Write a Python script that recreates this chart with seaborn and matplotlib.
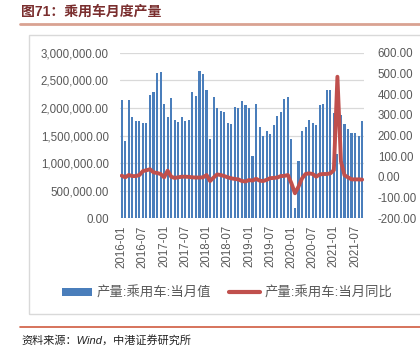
import numpy as np
import pandas as pd
import matplotlib
matplotlib.use('Agg')
import matplotlib.pyplot as plt
import seaborn as sns
from matplotlib.patches import Patch, Rectangle
from matplotlib.lines import Line2D
from matplotlib.ticker import FuncFormatter

# Monthly data, 2016-01 .. 2021-09.
months = pd.date_range('2016-01-01', periods=69, freq='MS').strftime('%Y-%m').tolist()

# 产量:乘用车:当月值 (units)
production = [
    2140000, 1400000, 2140000, 1830000, 1770000, 1770000, 1720000, 1720000, 2230000, 2280000, 2640000, 2650000,
    2070000, 1840000, 2180000, 1780000, 1740000, 1840000, 1760000, 1790000, 2290000, 2220000, 2670000, 2610000,
    2330000, 1440000, 2200000, 2000000, 1950000, 1930000, 1730000, 1710000, 2020000, 2000000, 2120000, 2050000,
    2000000, 1130000, 2080000, 1650000, 1490000, 1590000, 1530000, 1690000, 1860000, 1930000, 2160000, 2190000,
    1430000, 190000, 1040000, 1580000, 1650000, 1790000, 1730000, 1690000, 2050000, 2080000, 2320000, 2330000,
    1910000, 1160000, 1880000, 1700000, 1620000, 1550000, 1540000, 1500000, 1760000,
]

# 产量:乘用车:当月同比 (%)
yoy = [
    6, -2, 9, 4, 4, 9, 28, 32, 37, 22, 19, 14,
    -2, 30, 1, -5, -2, 1, 1, 0, -2, -3, -3, -2,
    9, -20, -3, 12, 9, 4, -2, -7, -10, -12, -20, -22,
    -15, -18, -9, -18, -20, -14, -6, -5, -3, 4, 5, 9,
    -31, -79, -47, -7, 14, 17, 14, 1, 12, 14, 14, 17,
    33, 484, 75, 8, -2, -12, -12, -12, -13,
]

bar_label = '产量:乘用车:当月值'
line_label = '产量:乘用车:当月同比'
title = '图71：乘用车月度产量'
source = '资料来源：Wind，中港证券研究所'

df = pd.DataFrame({'month': months, 'production': production, 'yoy': yoy})
df['pos'] = np.arange(len(df))

bar_color = '#4A7EBB'
line_color = '#C0504D'
grey = '#595959'

sns.set_style('white')
plt.rcParams['font.family'] = ['Liberation Sans', 'Noto Sans CJK SC']
plt.rcParams['axes.unicode_minus'] = False

fig = plt.figure(figsize=(4.2, 3.53), dpi=100)
ax = fig.add_axes([0.2855, 0.3816, 0.581, 0.469])

sns.barplot(data=df, x='pos', y='production', color=bar_color, saturation=1,
            width=0.6, linewidth=0, ax=ax, native_scale=True)
ax.set_xlim(-0.5, len(df) - 0.5)
ax.set_ylim(0, 3000000)
ax.set_yticks(np.arange(0, 3000001, 500000))
ax.yaxis.set_major_formatter(FuncFormatter(lambda v, p: f'{v:,.2f}'))
ax.set_xticks(df['pos'][::6])
ax.set_xticklabels(df['month'][::6], rotation=90)
ax.yaxis.grid(True, color='#D9D9D9', lw=0.9)
ax.set_axisbelow(True)
ax.set_xlabel('')
ax.set_ylabel('')
ax.tick_params(axis='both', length=0, labelsize=8.3, colors=grey, pad=8)
ax.tick_params(axis='x', pad=5)

# secondary axis for yoy
ax2 = ax.twinx()
sns.lineplot(data=df, x='pos', y='yoy', color=line_color, lw=2.8, ax=ax2)
ax2.set_ylim(-200, 600)
ax2.set_yticks(np.arange(-200, 601, 100))
ax2.yaxis.set_major_formatter(FuncFormatter(lambda v, p: f'{v:.2f}'))
ax2.set_ylabel('')
ax2.tick_params(axis='y', length=0, labelsize=8.3, colors=grey, pad=10)

for a in (ax, ax2):
    for s in a.spines.values():
        s.set_visible(False)

handles = [Patch(facecolor=bar_color, edgecolor='none'),
           Line2D([0], [0], color=line_color, lw=3)]
fig.legend(handles, [bar_label, line_label], loc='center', bbox_to_anchor=(0.54, 0.17),
           ncol=2, frameon=False, fontsize=9.6, handlelength=2.3, handleheight=0.5,
           handletextpad=0.3, columnspacing=1.4, labelcolor=grey)

# frame and decorations
fig.patches.append(Rectangle((0.069, 0.1105), 1.0, 0.79, transform=fig.transFigure,
                             facecolor='none', edgecolor='#D9D9D9', lw=1, zorder=0))
fig.add_artist(Line2D([0.048, 1.0], [0.9334, 0.9334], color='#D9A292', lw=2, transform=fig.transFigure))
fig.add_artist(Line2D([0.048, 1.0], [0.075, 0.075], color='#CF5B3F', lw=1.2, transform=fig.transFigure))

fig.text(0.05, 0.966, title, fontsize=10, fontweight='bold', color='#7A2E2E', va='center', ha='left')
fig.text(0.052, 0.037, source, fontsize=8, style='italic', color='#222222', va='center', ha='left')

fig.savefig('out.png', dpi=100, facecolor='white')
